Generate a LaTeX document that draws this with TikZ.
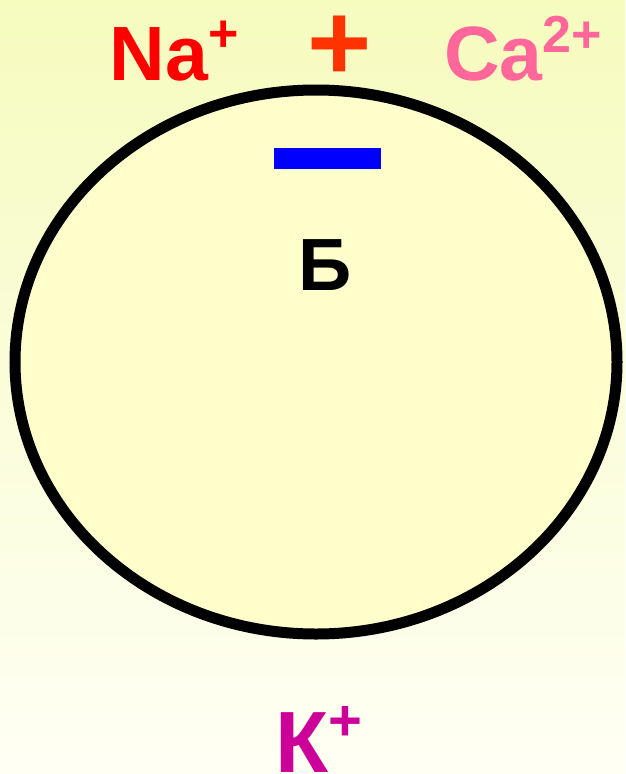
\documentclass[tikz,border=0pt]{standalone}
\usepackage{fontspec}
\setmainfont{Liberation Sans}
\usetikzlibrary{positioning}
\definecolor{BgTop}{HTML}{F6FBBE}
\definecolor{BgBottom}{HTML}{FFFFF4}
\definecolor{CellFill}{HTML}{FFFFCC}
\definecolor{NaRed}{HTML}{FF0000}
\definecolor{PlusRed}{HTML}{FF3300}
\definecolor{CaPink}{HTML}{FF6699}
\definecolor{KMagenta}{HTML}{CC0099}
\definecolor{MinusBlue}{HTML}{0000FF}
\newcommand{\ionsup}[3]{\raisebox{#1}{\fontsize{#2}{#2}\selectfont #3}}

\begin{document}
\begin{tikzpicture}[
    x=1pt, y=-1pt,
    ion/.style={inner sep=0pt, anchor=base west, font=\fontsize{77}{77}\selectfont\bfseries},
    charge/.style={inner sep=0pt, anchor=base, font=\fontsize{110}{110}\selectfont\bfseries, text=PlusRed},
    label/.style={inner sep=0pt, anchor=base, font=\fontsize{74}{74}\selectfont\bfseries},
    membrane/.style={draw=black, line width=11pt, fill=CellFill}
  ]
    \shade[top color=BgTop, bottom color=BgBottom] (0,0) rectangle (625,774);
    \useasboundingbox (0,0) rectangle (625,774);

    \draw[membrane] (316,362) ellipse [x radius=301, y radius=272];
    \fill[MinusBlue] (274,148) rectangle (381,169);

    \node[ion, text=NaRed] (na) at (109.5,80) {Na\ionsup{29pt}{52}{+}};
    \node[charge] (plus) at (340,80) {+};
    \node[ion, text=CaPink] (ca) at (444,80) {Ca\ionsup{28pt}{52}{2+}};
    \node[label] (b) at (325.5,290) {Б};
    \node[ion, text=KMagenta, font=\fontsize{87}{87}\selectfont\bfseries] (k) at (275,772) {К\ionsup{32pt}{58}{+}};
  \end{tikzpicture}
\end{document}
